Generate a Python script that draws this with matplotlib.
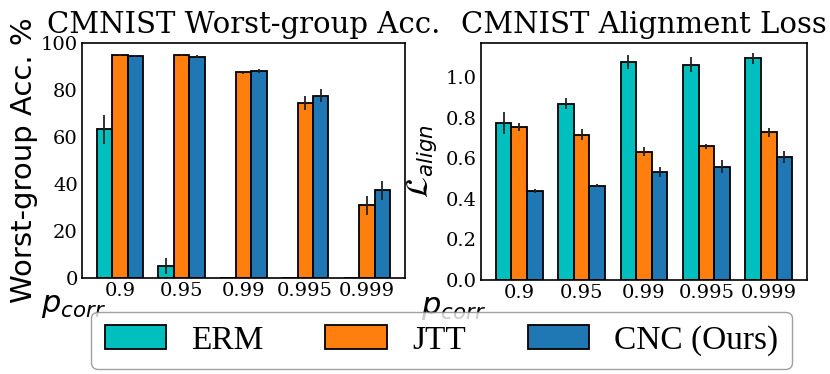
import matplotlib
matplotlib.use("Agg")
import matplotlib.pyplot as plt
import numpy as np

categories = ["0.9", "0.95", "0.99", "0.995", "0.999"]
methods = ["ERM", "JTT", "CNC (Ours)"]
colors = ["#00BFBF", "#FF7F0E", "#1F77B4"]

acc_erm = [63.4, 5.2, 0, 0, 0]
acc_erm_err = [6.2, 3.5, 0, 0, 0]
acc_jtt = [95.0, 95.0, 87.5, 74.5, 30.9]
acc_jtt_err = [0.5, 0.4, 0.8, 3.0, 3.9]
acc_cnc = [94.6, 94.3, 88.1, 77.6, 37.3]
acc_cnc_err = [0.5, 0.5, 0.7, 2.8, 4.0]

loss_erm = [0.774, 0.870, 1.077, 1.063, 1.094]
loss_erm_err = [0.053, 0.026, 0.035, 0.037, 0.026]
loss_jtt = [0.756, 0.717, 0.634, 0.659, 0.730]
loss_jtt_err = [0.019, 0.026, 0.020, 0.012, 0.022]
loss_cnc = [0.440, 0.465, 0.535, 0.560, 0.606]
loss_cnc_err = [0.010, 0.008, 0.025, 0.030, 0.029]

plt.rcParams["font.family"] = "DejaVu Serif"
plt.rcParams["mathtext.fontset"] = "dejavusans"

fig = plt.figure(figsize=(8.3, 3.74), dpi=100)
ax1 = fig.add_axes([0.0988, 0.2567, 0.389, 0.628])
ax2 = fig.add_axes([0.5795, 0.2513, 0.3928, 0.634])

x = np.arange(len(categories))
w = 0.25

def draw(ax, series, errs):
    handles = []
    for i, (vals, err) in enumerate(zip(series, errs)):
        b = ax.bar(x + (i - 1) * w, vals, w, yerr=err, color=colors[i],
                   edgecolor="black", linewidth=1.3, label=methods[i],
                   error_kw=dict(ecolor="#222222", elinewidth=1.3, capsize=0))
        handles.append(b)
    ax.set_xticks(x)
    ax.set_xticklabels(categories)
    ax.tick_params(length=0, labelsize=14, pad=3)
    for s in ax.spines.values():
        s.set_linewidth(1.2)
    return handles

h = draw(ax1, [acc_erm, acc_jtt, acc_cnc], [acc_erm_err, acc_jtt_err, acc_cnc_err])
ax1.set_ylim(0, 100)
ax1.set_title("CMNIST Worst-group Acc.", fontsize=21, pad=7)
ax1.set_ylabel("Worst-group Acc. %", family="DejaVu Sans", fontsize=21)
ax1.yaxis.set_label_coords(-0.135, 0.5)
ax1.set_xlabel("$p_{corr}$", fontsize=22)
ax1.xaxis.set_label_coords(-0.028, -0.045)

draw(ax2, [loss_erm, loss_jtt, loss_cnc], [loss_erm_err, loss_jtt_err, loss_cnc_err])
ax2.set_ylim(0, 1.17)
ax2.set_yticks([0.0, 0.2, 0.4, 0.6, 0.8, 1.0])
ax2.set_title("CMNIST Alignment Loss", fontsize=21, pad=7)
ax2.set_ylabel(r"$\mathcal{L}_{align}$", fontsize=22)
ax2.yaxis.set_label_coords(-0.13, 0.5)
ax2.set_xlabel("$p_{corr}$", fontsize=22)
ax2.xaxis.set_label_coords(-0.085, -0.045)

fig.legend(handles=h, labels=methods, loc="lower center", ncol=3,
           bbox_to_anchor=(0.532, 0.013), prop={"family": "Liberation Serif", "size": 24},
           handlelength=1.85, handletextpad=0.75, columnspacing=1.85,
           frameon=True, fancybox=True, edgecolor="#888888", borderaxespad=0)

fig.savefig("out.png", dpi=100)
